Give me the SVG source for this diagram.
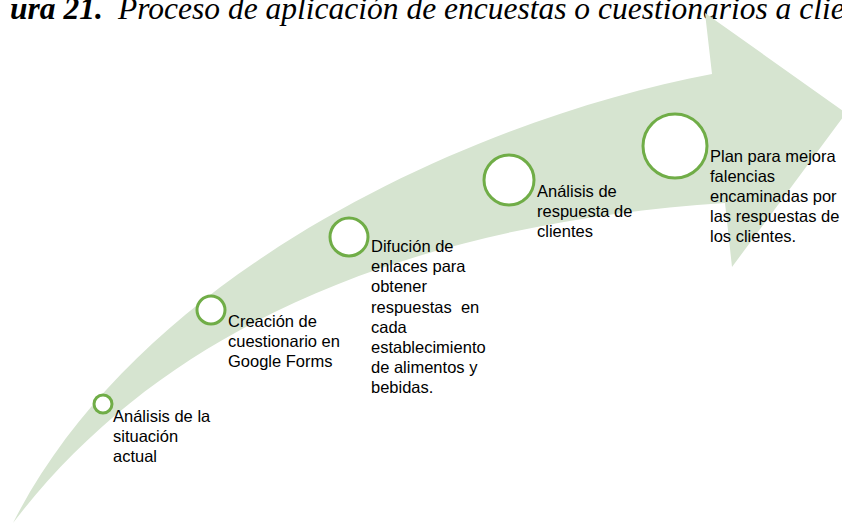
<svg xmlns="http://www.w3.org/2000/svg" width="842" height="524" viewBox="0 0 842 524">
<style>
.t{font-family:"Liberation Sans",Arial,sans-serif;font-size:16.5px;fill:#000}
.ttl{font-family:"Liberation Serif","Times New Roman",serif;font-style:italic;font-size:31.5px;fill:#000}
.c{fill:#fff;stroke:#70ad47;stroke-width:3}
</style>
<rect width="842" height="524" fill="#fff"/>
<g id="title">
<text class="ttl" y="19"><tspan x="10" font-weight="bold">ura 21.</tspan><tspan x="118">Proceso de aplicación de encuestas o cuestionarios a clie</tspan></text>
</g>
<g id="arrow">
<path fill="#d6e4d0" d="M13,523 C143,267 480,118 712,74 L705,13 L846,113 L732,267 L725,203 C440,222 175,310 13,523 Z"/>
</g>
<g id="connectors"></g>
<g id="step1">
<circle class="c" cx="103" cy="404" r="9" stroke-width="2.5"/>
<text class="t"><tspan x="113" y="422">Análisis de la</tspan><tspan x="113" y="442">situación</tspan><tspan x="113" y="462">actual</tspan></text>
</g>
<g id="step2">
<circle class="c" cx="211" cy="310" r="14"/>
<text class="t"><tspan x="228" y="327">Creación de</tspan><tspan x="228" y="347">cuestionario en</tspan><tspan x="228" y="367">Google Forms</tspan></text>
</g>
<g id="step3">
<circle class="c" cx="349" cy="237" r="19"/>
<text class="t"><tspan x="371" y="252">Difución de</tspan><tspan x="371" y="272">enlaces para</tspan><tspan x="371" y="292">obtener</tspan><tspan x="371" y="313" xml:space="preserve">respuestas  en</tspan><tspan x="371" y="333">cada</tspan><tspan x="371" y="353">establecimiento</tspan><tspan x="371" y="373">de alimentos y</tspan><tspan x="371" y="393">bebidas.</tspan></text>
</g>
<g id="step4">
<circle class="c" cx="509" cy="180" r="25"/>
<text class="t"><tspan x="537" y="197">Análisis de</tspan><tspan x="537" y="217">respuesta de</tspan><tspan x="537" y="237">clientes</tspan></text>
</g>
<g id="step5">
<circle class="c" cx="675" cy="146" r="32"/>
<text class="t"><tspan x="710" y="162">Plan para mejora</tspan><tspan x="710" y="182">falencias</tspan><tspan x="710" y="202">encaminadas por</tspan><tspan x="710" y="222">las respuestas de</tspan><tspan x="710" y="242">los clientes.</tspan></text>
</g>
</svg>
